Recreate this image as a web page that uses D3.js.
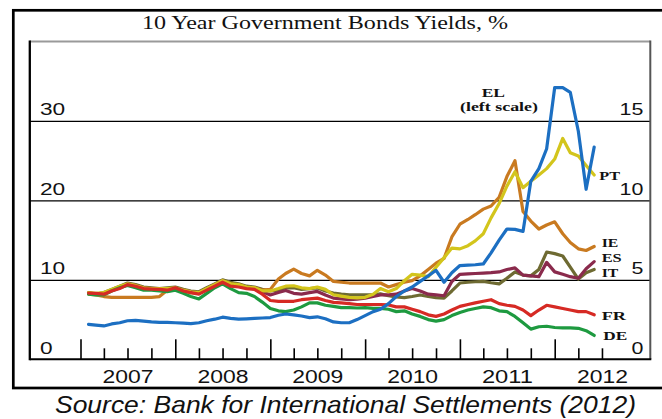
<!DOCTYPE html>
<html><head><meta charset="utf-8">
<script src="https://cdn.jsdelivr.net/npm/d3@7"></script>
<style>body{margin:0;background:#fff}svg{display:block}</style>
</head><body><svg id="c" width="662" height="419"></svg>
<script>
// ---------- DATA ----------
const firstMonth = new Date(2007, 1, 1);   // Feb 2007
const lastMonth  = new Date(2012, 5, 1);   // Jun 2012
const months = d3.timeMonth.range(firstMonth, d3.timeMonth.offset(lastMonth, 1));

// EL on the left scale (%)
const EL = [4.4,4.3,4.2,4.45,4.6,4.85,4.9,4.8,4.7,4.65,
 4.65,4.6,4.55,4.5,4.6,4.85,5.05,5.3,5.15,5.05,
 5.1,5.15,5.2,5.25,5.55,5.7,5.6,5.45,5.25,5.35,
 5.1,4.7,4.6,4.6,5.0,5.5,6.0,6.3,7.0,7.9,
 8.6,9.1,9.8,10.5,11.2,9.7,10.9,11.8,11.85,11.9,
 12.0,13.4,15.0,16.4,16.35,16.1,22.4,24.0,26.5,34.2,
 34.2,33.6,28.7,21.4,26.7];
// the rest on the right scale (%)
const PT = [4.2,4.15,4.2,4.4,4.6,4.75,4.65,4.5,4.45,4.45,
 4.45,4.5,4.35,4.25,4.2,4.45,4.7,4.95,4.75,4.7,
 4.55,4.5,4.3,4.3,4.45,4.6,4.63,4.5,4.45,4.55,
 4.4,4.06,3.98,3.9,3.87,3.9,4.1,4.45,4.25,4.45,
 4.95,5.35,5.3,5.2,5.8,6.4,7.0,6.95,7.15,7.45,
 7.9,8.9,9.8,10.9,11.8,10.8,11.2,11.6,12.0,12.6,
 13.9,13.0,12.8,12.2,11.6];
const IE = [4.1,4.05,3.95,3.9,3.9,3.9,3.9,3.9,3.9,3.95,
 4.35,4.45,4.3,4.2,4.15,4.45,4.7,4.95,4.75,4.65,
 4.55,4.5,4.35,4.4,5.05,5.4,5.67,5.4,5.25,5.6,
 5.3,4.9,4.85,4.8,4.8,4.8,4.8,4.8,4.55,4.7,
 4.85,4.95,5.25,5.65,6.05,6.35,7.7,8.5,8.8,9.1,
 9.45,9.65,10.2,11.5,12.5,9.3,8.7,8.2,8.45,8.65,
 7.9,7.35,6.95,6.85,7.1];
const ES = [4.15,4.1,4.15,4.35,4.55,4.75,4.65,4.5,4.45,4.42,
 4.4,4.5,4.35,4.25,4.15,4.4,4.65,4.9,4.7,4.6,
 4.5,4.45,4.25,4.05,4.2,4.33,4.15,4.1,4.2,4.27,
 4.05,3.85,3.8,3.75,3.78,3.85,3.95,4.05,4.05,4.1,
 4.3,4.45,4.3,4.1,4.05,4.0,4.9,5.35,5.38,5.4,
 5.42,5.45,5.5,5.65,5.75,5.3,5.25,5.2,6.1,5.5,
 5.35,5.2,5.1,5.7,6.15];
const IT = [4.2,4.1,4.2,4.4,4.6,4.8,4.7,4.55,4.5,4.45,
 4.5,4.55,4.4,4.3,4.25,4.5,4.75,5.0,4.85,4.75,
 4.6,4.55,4.4,4.3,4.35,4.5,4.5,4.4,4.45,4.5,
 4.3,4.17,4.1,4.05,4.05,4.05,4.05,4.12,4.0,3.92,
 3.88,3.95,4.05,3.95,3.88,3.85,4.3,4.8,4.85,4.88,
 4.9,4.82,4.75,5.1,5.5,5.3,5.25,5.65,6.75,6.65,
 6.5,5.8,5.05,5.45,5.65];
const FR = [4.17,4.15,4.1,4.3,4.45,4.7,4.6,4.45,4.42,4.4,
 4.35,4.5,4.3,4.2,4.1,4.35,4.6,4.85,4.6,4.55,
 4.45,4.4,4.1,3.7,3.65,3.65,3.65,3.75,3.8,3.85,
 3.7,3.58,3.55,3.5,3.45,3.45,3.45,3.45,3.42,3.3,
 3.3,3.15,3.0,2.8,2.7,2.85,3.1,3.33,3.45,3.55,
 3.65,3.75,3.5,3.4,3.33,3.1,2.75,3.1,3.4,3.3,
 3.2,3.1,3.0,3.0,2.8];
const DE = [4.1,4.05,4.05,4.3,4.5,4.65,4.5,4.35,4.35,4.3,
 4.25,4.35,4.15,3.95,3.8,4.15,4.5,4.75,4.45,4.2,
 4.15,3.95,3.6,3.2,3.05,3.0,3.1,3.3,3.55,3.55,
 3.4,3.33,3.25,3.25,3.23,3.25,3.2,3.2,3.15,3.0,
 3.05,2.85,2.7,2.5,2.4,2.5,2.75,2.95,3.1,3.2,
 3.3,3.25,3.05,3.0,2.7,2.3,1.9,2.05,2.08,2.0,
 1.98,1.98,1.95,1.8,1.5];

const seriesNames = ["IT","ES","IE","PT","DE","FR","EL"];   // drawing order
const seriesValues = {EL, PT, IE, ES, IT, FR, DE};
const leftTicks = [0, 10, 20, 30];
const rightTicks = [0, 5, 10, 15];
const gridTicks = [10, 20, 30];
const yearLabels = [2007, 2008, 2009, 2010, 2011, 2012];
const titleText = "10 Year Government Bonds Yields, %";
const sourceText = "Source: Bank for International Settlements (2012)";
const elLabel = ["EL", "(left scale)"];

// ---------- STYLE / LAYOUT ----------
const colors = {EL:"#1c6fc2", PT:"#d3c51c", IE:"#c97a20", ES:"#8a2a4c", IT:"#6e6a32", FR:"#d62a24", DE:"#1e9a40"};
const labelPos = {
  PT:{x:599.3,y:180,w:20.7}, IE:{x:601.7,y:246.7,w:16.6}, ES:{x:601.7,y:261.7,w:20},
  IT:{x:601.7,y:277.3,w:16.6}, FR:{x:601.7,y:320,w:24.3}, DE:{x:603.3,y:340,w:24}
};
const P = {L:29.8, R:650.3, T:41.5, B:359.3};

const svg = d3.select("#c");
const x = d3.scaleTime().domain([new Date(2007,0,1), new Date(2012,0,1)]).range([80.5, 554.7]);
const yL = d3.scaleLinear().domain([0, 40]).range([P.B, P.T]);
const yR = d3.scaleLinear().domain([0, 20]).range([P.B, P.T]);

function stretch(sel, w){ sel.attr("textLength", w).attr("lengthAdjust","spacingAndGlyphs"); }

// outer frame
svg.append("rect").attr("x",13.3).attr("y",10.3).attr("width",720).attr("height",377.7)
  .attr("fill","none").attr("stroke","#000").attr("stroke-width",2.7);

// title
svg.append("text").attr("x",142).attr("y",29).attr("font-family","Liberation Serif")
  .attr("font-size",18).attr("fill","#111").text(titleText).call(stretch,366);

// gridlines via axis
const grid = svg.append("g").attr("transform",`translate(${P.L},0)`)
  .call(d3.axisLeft(yL).tickValues(gridTicks).tickSize(-(P.R-P.L)).tickFormat(""));
grid.select(".domain").remove();
grid.selectAll("line").attr("stroke","#000").attr("stroke-width",1.3);

// plot box
svg.append("line").attr("x1",P.L).attr("x2",P.R).attr("y1",P.T).attr("y2",P.T).attr("stroke","#9a9a9a").attr("stroke-width",2);
svg.append("line").attr("x1",P.R).attr("x2",P.R).attr("y1",P.T-1).attr("y2",P.B).attr("stroke","#555").attr("stroke-width",2);
svg.append("line").attr("x1",P.L).attr("x2",P.L).attr("y1",P.T-1).attr("y2",P.B+1).attr("stroke","#000").attr("stroke-width",2.3);
svg.append("line").attr("x1",P.L).attr("x2",P.R+1).attr("y1",P.B).attr("y2",P.B).attr("stroke","#000").attr("stroke-width",2);

// x ticks
const majors = yearLabels.map(y => new Date(y,0,1));
const minors = d3.timeMonth.every(3).range(new Date(2007,0,1), new Date(2012,6,2)).filter(d => d.getMonth() !== 0);
[[majors,-20],[minors,-11]].forEach(([vals,sz])=>{
  const g = svg.append("g").attr("transform",`translate(0,${P.B})`)
    .call(d3.axisBottom(x).tickValues(vals).tickSize(sz).tickFormat(""));
  g.select(".domain").remove();
  g.selectAll("line").attr("stroke","#000").attr("stroke-width",1.6);
});
// year labels
const yl = svg.append("g").attr("transform",`translate(0,${P.B})`)
  .call(d3.axisBottom(x).tickValues(yearLabels.map(y=>new Date(y,6,1))).tickSize(0).tickFormat(d3.timeFormat("%Y")));
yl.select(".domain").remove();
yl.attr("font-family","Liberation Sans").attr("font-size",18);
yl.selectAll("text").attr("y",24).attr("dy",0).attr("x",-25.5).attr("text-anchor","start").attr("fill","#111").call(stretch,51);

// left labels
const la = svg.append("g").attr("transform","translate(40,0)")
  .call(d3.axisRight(yL).tickValues(leftTicks).tickSize(0).tickPadding(0).tickFormat(d3.format("d")));
la.select(".domain").remove();
la.attr("font-family","Liberation Sans").attr("font-size",16);
la.selectAll("text").attr("y",-6).attr("dy",0).attr("fill","#111").each(function(d){ stretch(d3.select(this), String(d).length*12.6); });

// right labels
const ra = svg.append("g").attr("transform","translate(643.3,0)")
  .call(d3.axisLeft(yR).tickValues(rightTicks).tickSize(0).tickPadding(0).tickFormat(d3.format("d")));
ra.select(".domain").remove();
ra.attr("font-family","Liberation Sans").attr("font-size",16);
ra.selectAll("text").attr("y",-6).attr("dy",0).attr("fill","#111").attr("text-anchor","start")
  .each(function(d){ const w = String(d).length*11.9; d3.select(this).attr("x",-w); stretch(d3.select(this), w); });

// lines
const data = name => months.map((m,i)=>({date:m, v:seriesValues[name][i]}));
seriesNames.forEach(name=>{
  const ys = name === "EL" ? yL : yR;
  svg.append("path").datum(data(name))
    .attr("fill","none").attr("stroke",colors[name]).attr("stroke-width",3.2)
    .attr("stroke-linejoin","round").attr("stroke-linecap","round")
    .attr("d", d3.line().x(d=>x(d.date)).y(d=>ys(d.v)));
});

// series labels
Object.keys(labelPos).forEach(name=>{
  const p = labelPos[name];
  svg.append("text").attr("x",p.x).attr("y",p.y).attr("font-family","Liberation Serif")
    .attr("font-weight","bold").attr("font-size",13).attr("fill","#111").text(name).call(stretch,p.w);
});
svg.append("text").attr("x",481.7).attr("y",96.7).attr("font-family","Liberation Serif")
  .attr("font-weight","bold").attr("font-size",13).attr("fill","#111").text(elLabel[0]).call(stretch,23.3);
svg.append("text").attr("x",460).attr("y",110.5).attr("font-family","Liberation Serif")
  .attr("font-weight","bold").attr("font-size",12.5).attr("fill","#111").text(elLabel[1]).call(stretch,78);

// source
svg.append("text").attr("x",55).attr("y",413).attr("font-family","Liberation Sans")
  .attr("font-style","italic").attr("font-size",24).attr("fill","#111").text(sourceText).call(stretch,581);
</script></body></html>
